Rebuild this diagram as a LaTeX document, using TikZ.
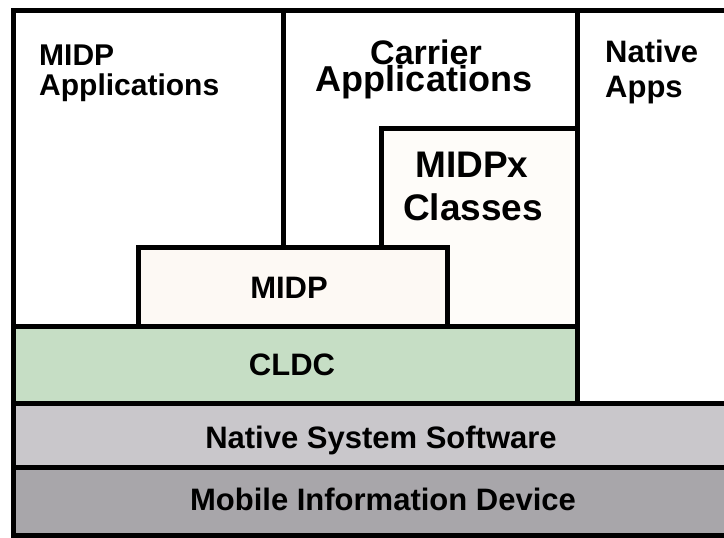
\documentclass[tikz,border=0pt]{standalone}
\usepackage{fontspec}
\setmainfont{Liberation Sans}
\definecolor{cream}{HTML}{FDF9F4}
\definecolor{creamx}{HTML}{FEFCF9}
\definecolor{cldcgreen}{HTML}{C6DEC5}
\definecolor{nssgray}{HTML}{C9C7CB}
\definecolor{midgray}{HTML}{A8A6AA}
\tikzset{
  layer/.style={draw=black, line width=5pt, line join=miter},
  lbl/.style={inner sep=0pt, font=\bfseries},
  fA/.style={font=\bfseries\fontsize{30}{30}\selectfont},
  fD/.style={font=\bfseries\fontsize{31}{31}\selectfont},
  fB/.style={font=\bfseries\fontsize{34}{34}\selectfont},
  fE/.style={font=\bfseries\fontsize{36}{36}\selectfont},
  fC/.style={font=\bfseries\fontsize{37}{37}\selectfont},
}
\begin{document}
\begin{tikzpicture}[x=1pt,y=-1pt]
\useasboundingbox (0,0) rectangle (724,538);
\fill[white] (0,0) rectangle (724,538);
% outer frame and column dividers
\draw[layer] (13,535) -- (13,10) -- (740,10);
\draw[layer] (283,10) -- (283,247);
\draw[layer] (577,10) -- (577,403);
% MIDPx box
\filldraw[layer, fill=creamx] (381,326) rectangle (577,128);
% MIDP box
\filldraw[layer, fill=cream] (138,326) rectangle (447,247);
% CLDC
\filldraw[layer, fill=cldcgreen] (13,403) rectangle (577,326);
% Native System Software
\filldraw[layer, fill=nssgray] (13,467) rectangle (740,403);
% Mobile Information Device
\filldraw[layer, fill=midgray] (13,535) rectangle (740,467);
% labels
\node[lbl, fA, anchor=base west] (ma1) at (39,65) {MIDP};
\node[lbl, fA, anchor=base west] (ma2) at (39,95) {Applications};
\node[lbl, fB, anchor=base] (ca1) at (426,64) {Carrier};
\node[lbl, fE, anchor=base] (ca2) at (424,91) {Applications};
\node[lbl, fD, anchor=base west] (na1) at (605,63) {Native};
\node[lbl, fD, anchor=base west] (na2) at (605,97) {Apps};
\node[lbl, fC, anchor=base] (mx1) at (472,177) {MIDPx};
\node[lbl, fC, anchor=base] (mx2) at (473,220) {Classes};
\node[lbl, fD, anchor=base] (midp) at (289,298) {MIDP};
\node[lbl, fD, anchor=base] (cldc) at (292,375) {CLDC};
\node[lbl, fD, anchor=base] (nss) at (381,448) {Native System Software};
\node[lbl, fD, anchor=base] (mid) at (383,510) {Mobile Information Device};
\end{tikzpicture}
\end{document}
